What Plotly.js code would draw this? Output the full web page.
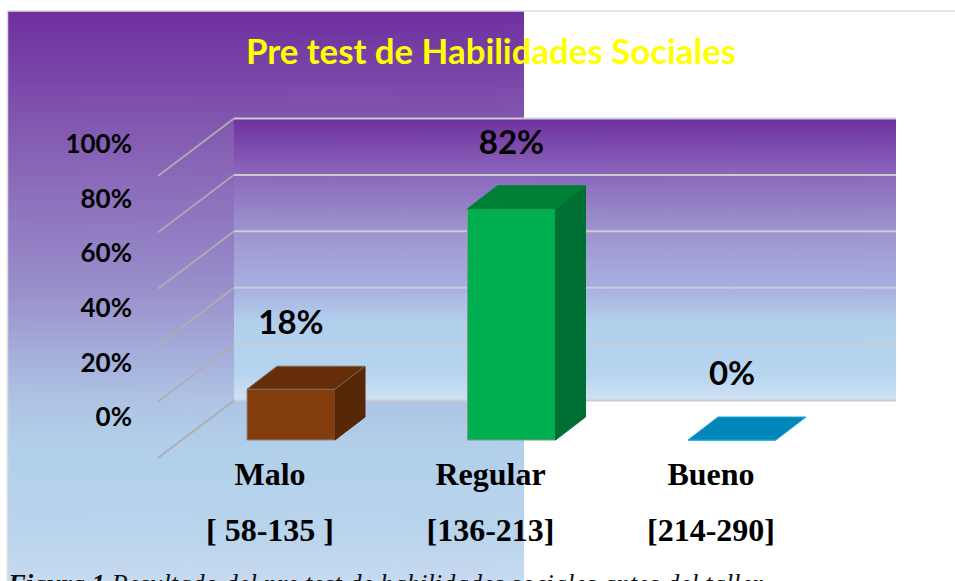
<!DOCTYPE html>
<html>
<head>
<meta charset="utf-8">
<script src="https://cdn.plot.ly/plotly-3.0.1.min.js"></script>
<style>html,body{margin:0;padding:0;background:#fff;overflow:hidden}#c{width:955px;height:581px}</style>
</head>
<body>
<div id="c"></div>
<script>
const levels = ['Malo', 'Regular', 'Bueno'];
const ranges = ['[ 58-135 ]', '[136-213]', '[214-290]'];
const percents = [18, 82, 0];
const percentTicks = [0, 20, 40, 60, 80, 100];
const frontColors = ['#833c0b', '#00b050', '#0086b8'];
const frontEdges = ['#8a8a8a', '#7f9a86', '#1fa8dc'];
const topColors = ['#652e09', '#008037', '#0086b8'];
const topEdges = ['#7a6a5c', '#008037', '#1fa8dc'];
const sideColors = ['#562806', '#006f33', '#0086b8'];
const chartTitle = 'Pre test de Habilidades Sociales';
const caption = '<b><i>Figura 1</i></b><i> Resultado del pre test de habilidades sociales antes del taller</i>';

const W = 955, H = 581;
// scale: pixels per category and per percentage point of the projected 3D box
const pxCat = 220.5, pxPct = 2.82, cat0 = 291, base = 440;
const xr = [-cat0 / pxCat, (W - cat0) / pxCat];
const yr = [-(H - base) / pxPct, base / pxPct];
const px = v => (v - cat0) / pxCat;
const py = v => (base - v) / pxPct;
const barW = 88 / pxCat, dx = 30 / pxCat, dy = 23 / pxPct;
const wallDy = py(400.5), frontDy = py(458), wallL = px(234), wallR = px(896), frontL = px(158);
const labelLift = 63 / pxPct;

function gradient(w, h, stops) {
  const c = document.createElement('canvas'); c.width = w; c.height = h;
  const g = c.getContext('2d'), lg = g.createLinearGradient(0, 0, 0, h);
  stops.forEach(s => lg.addColorStop(s[0], s[1]));
  g.fillStyle = lg; g.fillRect(0, 0, w, h);
  return c.toDataURL('image/png');
}
const panelStops = [[0,'#7030a0'],[0.24,'#8660b4'],[0.49,'#9a90cc'],[0.68,'#aec3e4'],[0.77,'#b2d0eb'],[0.91,'#b9d4ed'],[1,'#c6daf0']];
const wallStops = [[0,'#7030a0'],[0.2,'#8b69bb'],[0.4,'#9d95d0'],[0.6,'#a8b0e0'],[0.72,'#b2cfec'],[0.9,'#b6d4ee'],[1,'#d0e2f4']];

const images = [
  {source: gradient(10, 569, panelStops), xref:'paper', yref:'paper', x:8/W, y:1-11/H, sizex:516/W, sizey:570/H, sizing:'stretch', xanchor:'left', yanchor:'top', layer:'below'},
  {source: gradient(10, 282, wallStops), xref:'paper', yref:'paper', x:234/W, y:1-119/H, sizex:662/W, sizey:282/H, sizing:'stretch', xanchor:'left', yanchor:'top', layer:'below'}
];

const shapes = [
  {type:'line', xref:'paper', yref:'paper', x0:7/W, x1:1, y0:1-11/H, y1:1-11/H, line:{color:'#dcdcdc', width:1.5}, layer:'below'},
  {type:'line', xref:'paper', yref:'paper', x0:7.5/W, x1:7.5/W, y0:0, y1:1-11/H, line:{color:'#dcdcdc', width:1.5}, layer:'below'}
];
percentTicks.forEach(v => {
  shapes.push({type:'line', xref:'x', yref:'y', x0:wallL, x1:wallR, y0:v+wallDy, y1:v+wallDy, line:{color:'#cbcbd0', width:2}, layer:'below'});
  shapes.push({type:'line', xref:'x', yref:'y', x0:wallL, x1:frontL, y0:v+wallDy, y1:v+frontDy, line:{color:'#adadb2', width:1.8}, layer:'below'});
});

const idx = levels.map((_, i) => i);
const traces = [{
  type:'bar', x:idx, y:percents, width:barW, hoverinfo:'skip', showlegend:false,
  marker:{color:frontColors, line:{color:frontEdges, width:1}}
}];
function face(xs, ys, color, edge) {
  traces.push({type:'scatter', mode:'lines', x:xs, y:ys, fill:'toself', fillcolor:color,
    line:{color:edge, width:1}, hoverinfo:'skip', showlegend:false});
}
percents.forEach((v, i) => {
  const l = i - barW/2, r = i + barW/2;
  if (v > 0) face([r, r+dx, r+dx, r, r], [0, dy, v+dy, v, 0], sideColors[i], sideColors[i]);
  face([l, r, r+dx, l+dx, l], [v, v, v+dy, v+dy, v], topColors[i], topEdges[i]);
});
traces.push({type:'scatter', mode:'text', x:idx, y:percents.map(v => v + labelLift),
  text:percents.map(v => v + '%'), textposition:'middle center',
  textfont:{family:'Lato, Carlito, sans-serif', size:33, color:'#000', weight:700},
  hoverinfo:'skip', showlegend:false});
// carriers of the label axes
traces.push({type:'scatter', mode:'none', x:idx, y:percents, xaxis:'x2', yaxis:'y', hoverinfo:'skip', showlegend:false});
traces.push({type:'scatter', mode:'none', x:idx, y:percents, xaxis:'x3', yaxis:'y', hoverinfo:'skip', showlegend:false});
traces.push({type:'scatter', mode:'none', x:idx, y:percents, xaxis:'x', yaxis:'y2', hoverinfo:'skip', showlegend:false});

const catFont = {family:'"Liberation Serif", serif', size:32, color:'#000', weight:700};
const labelX = [-270 / pxCat, (W - 270) / pxCat];
const pctPx = 54.6 / 20, tick0 = 417;
const layout = {
  width:W, height:H, margin:{l:0, r:0, t:0, b:0, pad:0},
  paper_bgcolor:'rgba(0,0,0,0)', plot_bgcolor:'rgba(0,0,0,0)',
  showlegend:false, bargap:0, hovermode:false,
  title:{text:chartTitle, x:491/W, xanchor:'center', y:1-52/H, yanchor:'middle',
    font:{family:'Lato, Carlito, sans-serif', size:34.8, color:'#ffff00', weight:700}},
  xaxis:{range:xr, visible:false, fixedrange:true},
  yaxis:{range:yr, visible:false, fixedrange:true},
  xaxis2:{overlaying:'x', anchor:'free', position:1-452/H, range:labelX, tickmode:'array', tickvals:idx, ticktext:levels,
    showgrid:false, zeroline:false, showline:false, ticks:'', tickfont:catFont, fixedrange:true, side:'bottom'},
  xaxis3:{overlaying:'x', anchor:'free', position:1-508/H, range:labelX, tickmode:'array', tickvals:idx, ticktext:ranges,
    showgrid:false, zeroline:false, showline:false, ticks:'', tickfont:catFont, fixedrange:true, side:'bottom'},
  yaxis2:{overlaying:'y', anchor:'free', position:132/W, side:'left', range:[-(H - tick0)/pctPx, (tick0)/pctPx],
    tickmode:'array', tickvals:percentTicks, ticktext:percentTicks.map(v => v + '%'),
    showgrid:false, zeroline:false, showline:false, ticks:'',
    tickfont:{family:'Lato, Carlito, sans-serif', size:26, color:'#000', weight:700}, fixedrange:true},
  images:images, shapes:shapes,
  annotations:[{xref:'paper', yref:'paper', x:5/W, y:1-567/H, xanchor:'left', yanchor:'top', showarrow:false, align:'left',
    text:caption, font:{family:'"Liberation Serif", serif', size:26.6, color:'#111'}}]
};
Plotly.newPlot('c', traces, layout, {displayModeBar:false, staticPlot:true});
</script>
</body>
</html>
